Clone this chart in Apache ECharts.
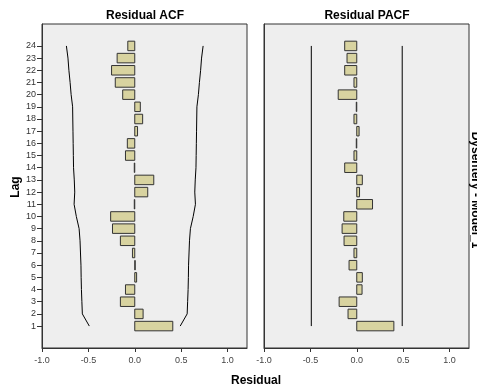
<!DOCTYPE html>
<html>
<head>
<meta charset="utf-8">
<script src="https://cdn.jsdelivr.net/npm/echarts@6/dist/echarts.min.js"></script>
<style>
  html, body { margin: 0; padding: 0; background: #fff; }
  #chart { width: 477px; height: 389px; }
</style>
</head>
<body>
<div id="chart"></div>
<script>
// lags 1..24
const lags = [1, 2, 3, 4, 5, 6, 7, 8, 9, 10, 11, 12, 13, 14, 15, 16, 17, 18, 19, 20, 21, 22, 23, 24]
const acf = [0.41, 0.09, -0.155, -0.10, 0.02, 0.005, -0.025, -0.155, -0.24, -0.26, -0.005, 0.14,
  0.205, -0.005, -0.10, -0.08, 0.03, 0.085, 0.06, -0.13, -0.21, -0.25, -0.19, -0.075]
const pacf = [0.40, -0.094, -0.19, 0.057, 0.06, -0.083, -0.03, -0.137, -0.158, -0.14, 0.17, 0.03,
  0.06, -0.13, -0.03, -0.005, 0.025, -0.03, -0.005, -0.20, -0.03, -0.13, -0.105, -0.13]
// confidence limits
const acfLimit = [0.49, 0.565, 0.57, 0.575, 0.578, 0.58, 0.585, 0.59, 0.60, 0.63, 0.654, 0.647,
  0.652, 0.66, 0.662, 0.664, 0.666, 0.668, 0.67, 0.686, 0.697, 0.71, 0.72, 0.737]
const pacfLimit = 0.49
const xTicks = [-1, -0.5, 0, 0.5, 1]

const font = '"Liberation Sans", Arial, sans-serif'

const chart = echarts.init(document.getElementById('chart'))

function barItem(params, api) {
  let val = api.value(0)
  let lag = api.value(1)
  let p0 = api.coord([0, lag])
  let p1 = api.coord([val, lag])
  let h = api.size([0, 0.78])[1]
  return {
    type: 'rect',
    shape: {
      x: Math.min(p0[0], p1[0]),
      y: p0[1] - h / 2,
      width: Math.abs(p1[0] - p0[0]),
      height: h
    },
    style: { fill: '#d8d3a0', stroke: '#333', lineWidth: 1 }
  }
}

function xAxis(idx) {
  return {
    type: 'value',
    gridIndex: idx,
    min: -1,
    max: 1.21,
    splitLine: { show: false },
    axisLine: { onZero: false, lineStyle: { color: '#333' } },
    axisTick: { length: 4, customValues: xTicks, lineStyle: { color: '#333' } },
    axisLabel: {
      customValues: xTicks,
      formatter: v => v.toFixed(1),
      fontSize: 9, fontFamily: font, color: '#444', margin: 8
    }
  }
}

function yAxis(idx, labels) {
  return {
    type: 'value',
    gridIndex: idx,
    min: -0.8,
    max: 25.8,
    splitLine: { show: false },
    axisLine: { onZero: false, lineStyle: { color: '#333' } },
    axisTick: { show: labels, length: 5, customValues: lags, lineStyle: { color: '#333' } },
    axisLabel: {
      show: labels,
      customValues: lags,
      fontSize: 9, fontFamily: font, color: '#333', margin: 6
    }
  }
}

const titleStyle = { fontFamily: font, fontWeight: 'bold', fontSize: 12, fill: '#000' }

chart.setOption({
  animation: false,
  backgroundColor: '#fff',
  grid: [
    { left: 42, top: 24, width: 205, height: 324, show: true, backgroundColor: '#eeeeee', borderColor: '#333', borderWidth: 1 },
    { left: 264, top: 24, width: 205, height: 324, show: true, backgroundColor: '#eeeeee', borderColor: '#333', borderWidth: 1 }
  ],
  xAxis: [xAxis(0), xAxis(1)],
  yAxis: [yAxis(0, true), yAxis(1, false)],
  series: [
    {
      type: 'custom', xAxisIndex: 0, yAxisIndex: 0,
      renderItem: barItem,
      encode: { x: 0, y: 1 },
      data: lags.map((l, i) => [acf[i], l])
    },
    {
      type: 'custom', xAxisIndex: 1, yAxisIndex: 1,
      renderItem: barItem,
      encode: { x: 0, y: 1 },
      data: lags.map((l, i) => [pacf[i], l])
    },
    {
      type: 'line', xAxisIndex: 0, yAxisIndex: 0, showSymbol: false,
      lineStyle: { color: '#000', width: 1 },
      data: lags.map((l, i) => [acfLimit[i], l])
    },
    {
      type: 'line', xAxisIndex: 0, yAxisIndex: 0, showSymbol: false,
      lineStyle: { color: '#000', width: 1 },
      data: lags.map((l, i) => [-acfLimit[i], l])
    },
    {
      type: 'line', xAxisIndex: 1, yAxisIndex: 1, showSymbol: false,
      lineStyle: { color: '#000', width: 1 },
      data: [[pacfLimit, lags[0]], [pacfLimit, lags[lags.length - 1]]]
    },
    {
      type: 'line', xAxisIndex: 1, yAxisIndex: 1, showSymbol: false,
      lineStyle: { color: '#000', width: 1 },
      data: [[-pacfLimit, lags[0]], [-pacfLimit, lags[lags.length - 1]]]
    }
  ],
  graphic: [
    { type: 'text', x: 145, y: 16, style: { ...titleStyle, text: 'Residual ACF', align: 'center', verticalAlign: 'middle' } },
    { type: 'text', x: 367, y: 16, style: { ...titleStyle, text: 'Residual PACF', align: 'center', verticalAlign: 'middle' } },
    { type: 'text', x: 256, y: 381, style: { ...titleStyle, text: 'Residual', align: 'center', verticalAlign: 'middle' } },
    { type: 'text', x: 16, y: 187, rotation: Math.PI / 2, style: { ...titleStyle, text: 'Lag', align: 'center', verticalAlign: 'middle' } },
    { type: 'text', x: 475, y: 190, rotation: -Math.PI / 2, style: { ...titleStyle, text: 'Dysentery - Model_1', align: 'center', verticalAlign: 'middle' } }
  ]
})
</script>
</body>
</html>
